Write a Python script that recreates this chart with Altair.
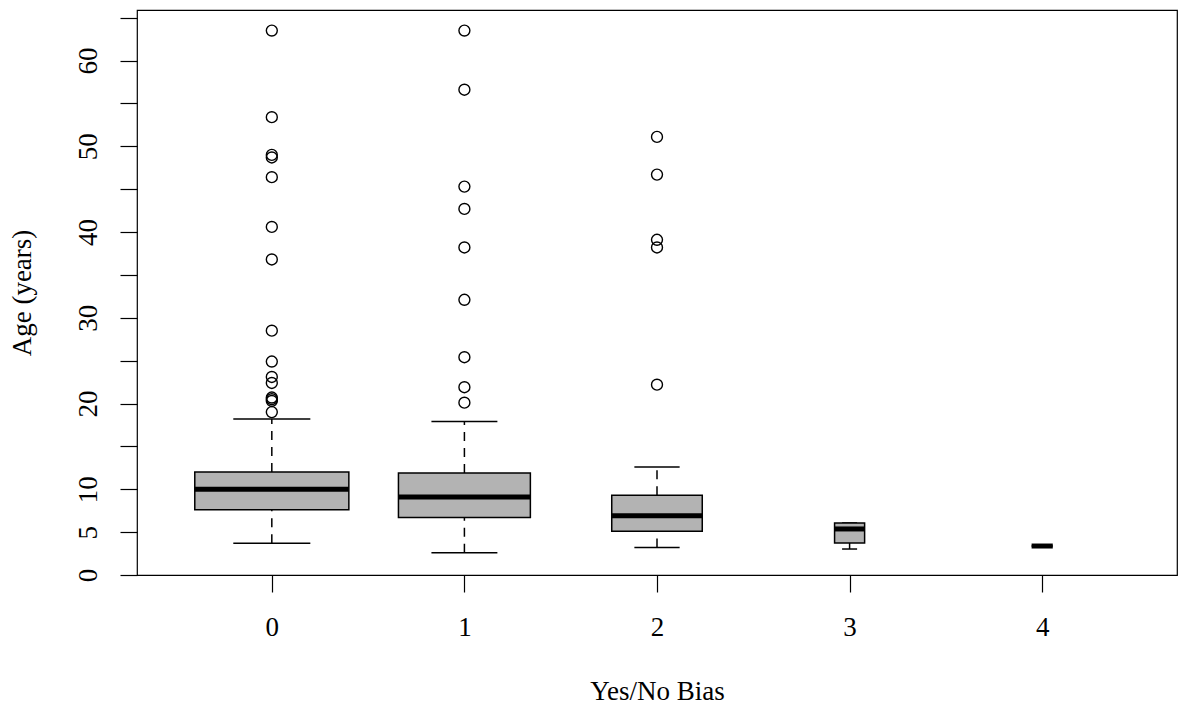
import altair as alt
import pandas as pd

# ---- data ----
groups = [0, 1, 2, 3, 4]
lower_whisker = [3.7, 2.6, 3.2, 3.03, 3.38]
q1 = [7.6, 6.7, 5.1, 3.73, 3.38]
median = [10.0, 9.1, 6.9, 5.37, 3.38]
q3 = [12.0, 11.9, 9.3, 6.07, 3.38]
upper_whisker = [18.2, 17.9, 12.6, 6.07, 3.38]
# relative box widths (varwidth boxplot), in x-axis units
box_width = [0.80, 0.685, 0.47, 0.156, 0.11]

outliers_0 = [63.5, 53.4, 49.0, 48.7, 46.4, 40.6, 36.8, 28.5, 24.9, 23.1, 22.4, 20.7, 20.5, 20.3, 19.0]
outliers_1 = [63.5, 56.6, 45.3, 42.7, 38.2, 32.1, 25.4, 21.9, 20.1]
outliers_2 = [51.1, 46.7, 39.1, 38.2, 22.2]

y_ticks = list(range(0, 70, 5))

# ---- tables ----
stats = pd.DataFrame({
    "g": groups, "lo": lower_whisker, "q1": q1, "med": median,
    "q3": q3, "hi": upper_whisker, "w": box_width,
})
stats["bl"] = stats["g"] - stats["w"] / 2
stats["br"] = stats["g"] + stats["w"] / 2
stats["cl"] = stats["g"] - stats["w"] / 4
stats["cr"] = stats["g"] + stats["w"] / 4

out_rows = []
for g, vals in zip([0, 1, 2], [outliers_0, outliers_1, outliers_2]):
    for v in vals:
        out_rows.append({"g": g, "v": v})
outs = pd.DataFrame(out_rows)

FONT = "Liberation Serif"
FS = 27
xs = alt.Scale(domain=[-0.7, 4.7], nice=False, zero=False)
ys = alt.Scale(domain=[0, 65.9], nice=False, zero=False)

x_axis = alt.Axis(
    values=groups, format="d", grid=False, domain=False,
    tickSize=17, tickWidth=1.2, tickColor="black",
    labelFont=FONT, labelFontSize=FS, labelColor="black",
    labelPadding=43, labelBaseline="alphabetic",
    title="Yes/No Bias", titleFont=FONT, titleFontSize=FS, titleFontWeight="normal",
    titleColor="black", titleX=520, titleY=124, titleAlign="center",
    titleBaseline="alphabetic", titleAnchor="middle",
)
y_axis = alt.Axis(
    values=y_ticks, grid=False, domain=False,
    tickSize=17, tickWidth=1.2, tickColor="black",
    labelFont=FONT, labelFontSize=FS, labelColor="black",
    labelAngle=270, labelAlign="center", labelBaseline="alphabetic",
    labelPadding=24,
    labelExpr="(datum.value == 0 || datum.value == 5 || datum.value % 10 == 0) && datum.value <= 60 ? datum.label : ''",
    labelOverlap=False,
    title="Age (years)", titleFont=FONT, titleFontSize=FS, titleFontWeight="normal",
    titleColor="black", titleAngle=270, titleX=-107, titleY=282.5,
    titleAlign="center", titleBaseline="alphabetic",
)

base = alt.Chart(stats)

whisk_lo = base.mark_rule(color="black", strokeWidth=1.5, strokeDash=[9, 7]).encode(
    x=alt.X("g:Q", scale=xs, axis=x_axis),
    y=alt.Y("lo:Q", scale=ys, axis=y_axis),
    y2="q1:Q",
)
whisk_hi = base.mark_rule(color="black", strokeWidth=1.5, strokeDash=[9, 7]).encode(
    x=alt.X("g:Q", scale=xs), y=alt.Y("q3:Q", scale=ys), y2="hi:Q",
)
cap_lo = base.mark_rule(color="black", strokeWidth=1.5).encode(
    x=alt.X("cl:Q", scale=xs), x2="cr:Q", y=alt.Y("lo:Q", scale=ys),
)
cap_hi = base.mark_rule(color="black", strokeWidth=1.5).encode(
    x=alt.X("cl:Q", scale=xs), x2="cr:Q", y=alt.Y("hi:Q", scale=ys),
)
box = base.mark_rect(fill="#b3b3b3", stroke="black", strokeWidth=1.5).encode(
    x=alt.X("bl:Q", scale=xs), x2="br:Q", y=alt.Y("q1:Q", scale=ys), y2="q3:Q",
)
med = base.mark_rule(color="black", strokeWidth=5).encode(
    x=alt.X("bl:Q", scale=xs), x2="br:Q", y=alt.Y("med:Q", scale=ys),
)
pts = alt.Chart(outs).mark_point(
    shape="circle", filled=False, color="black", size=120, strokeWidth=1.4, opacity=1
).encode(
    x=alt.X("g:Q", scale=xs), y=alt.Y("v:Q", scale=ys),
)

chart = alt.layer(whisk_lo, whisk_hi, cap_lo, cap_hi, box, med, pts).properties(
    width=1040, height=565,
    autosize=alt.AutoSizeParams(type="none"),
    padding={"left": 137, "top": 10, "right": 1, "bottom": 131},
    background="white",
).configure_view(stroke="black", strokeWidth=1.2)

chart.save("out.html", embed_options={"renderer": "svg", "actions": False})
